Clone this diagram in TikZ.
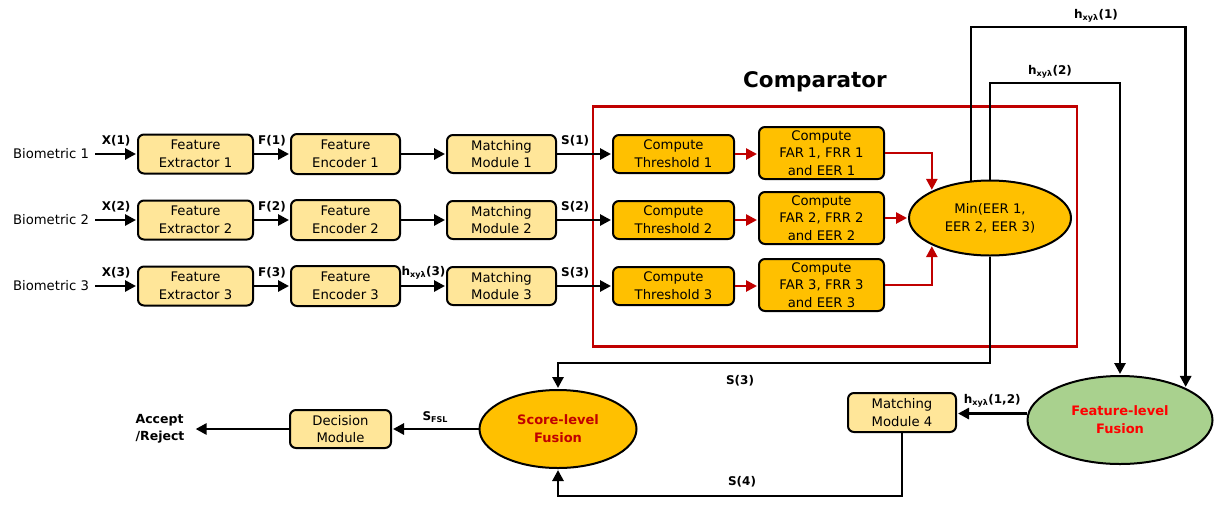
\documentclass[tikz,border=0pt]{standalone}
\usepackage{fontspec}
\setmainfont{DejaVu Sans}
\usepackage{tikz}
\usetikzlibrary{arrows.meta,shapes.geometric,positioning}

\definecolor{boxyellow}{HTML}{FFE699}
\definecolor{boxorange}{HTML}{FFC000}
\definecolor{fusgreen}{HTML}{A9D18E}
\definecolor{cmpred}{HTML}{C00000}

\begin{document}
\begin{tikzpicture}[x=1pt,y=-1pt,shorten >=1pt,>={Triangle[length=11pt,width=11pt]}]
 \tikzstyle{txt}=[font=\fontsize{13.2}{17.8}\selectfont,align=center,inner sep=0pt]
 \tikzstyle{lbl}=[font=\bfseries\fontsize{12}{14}\selectfont,inner sep=1pt]
 \tikzstyle{lightbox}=[txt,draw,line width=2pt,rounded corners=6pt,fill=boxyellow]
 \tikzstyle{orangebox}=[txt,draw,line width=2pt,rounded corners=6pt,fill=boxorange]
 \tikzstyle{oval}=[txt,draw,line width=2pt,ellipse]
 \tikzstyle{flow}=[->,line width=2.8pt]
 \tikzstyle{redflow}=[->,line width=2.6pt,color=cmpred]

\useasboundingbox (0,0) rectangle (1230,504);

% comparator frame
\node[draw=cmpred,line width=2.5pt,minimum width=484pt,minimum height=240pt] (cmp) at (835,226.5) {};
\node[font=\bfseries\fontsize{21.5}{24}\selectfont] (cmptitle) at (815,82) {Comparator};

% inputs
\node[txt,inner sep=6pt] (bio1) at (51,154) {Biometric 1};
\node[txt,inner sep=6pt] (bio2) at (51,220) {Biometric 2};
\node[txt,inner sep=6pt] (bio3) at (51,286) {Biometric 3};

\node[lightbox,minimum width=115pt,minimum height=39pt] (fe1) at (195.5,154) {Feature\\Extractor 1};
\node[lightbox,minimum width=115pt,minimum height=39pt] (fe2) at (195.5,220) {Feature\\Extractor 2};
\node[lightbox,minimum width=115pt,minimum height=39pt] (fe3) at (195.5,286) {Feature\\Extractor 3};

\node[lightbox,minimum width=109pt,minimum height=40pt] (enc1) at (345.5,154) {Feature\\Encoder 1};
\node[lightbox,minimum width=109pt,minimum height=40pt] (enc2) at (345.5,220) {Feature\\Encoder 2};
\node[lightbox,minimum width=109pt,minimum height=40pt] (enc3) at (345.5,286) {Feature\\Encoder 3};

\node[lightbox,minimum width=109pt,minimum height=38pt] (mm1) at (501.5,154) {Matching\\Module 1};
\node[lightbox,minimum width=109pt,minimum height=38pt] (mm2) at (501.5,220) {Matching\\Module 2};
\node[lightbox,minimum width=109pt,minimum height=38pt] (mm3) at (501.5,286) {Matching\\Module 3};

\node[orangebox,minimum width=121pt,minimum height=38pt] (thr1) at (673.5,154) {Compute\\Threshold 1};
\node[orangebox,minimum width=121pt,minimum height=38pt] (thr2) at (673.5,220) {Compute\\Threshold 2};
\node[orangebox,minimum width=121pt,minimum height=38pt] (thr3) at (673.5,286) {Compute\\Threshold 3};

\node[orangebox,minimum width=125pt,minimum height=52pt] (far1) at (821.5,153) {Compute\\FAR 1, FRR 1\\and EER 1};
\node[orangebox,minimum width=125pt,minimum height=52pt] (far2) at (821.5,218) {Compute\\FAR 2, FRR 2\\and EER 2};
\node[orangebox,minimum width=125pt,minimum height=52pt] (far3) at (821.5,285) {Compute\\FAR 3, FRR 3\\and EER 3};

\node[oval,fill=boxorange,minimum width=162pt,minimum height=75pt] (min) at (990,218) {Min(EER 1,\\EER 2, EER 3)};

% fusion part
\node[oval,fill=fusgreen,minimum width=185pt,minimum height=88pt,text=red,font=\bfseries\fontsize{13}{17.8}\selectfont] (ffus) at (1120,420) {Feature-level\\Fusion};
\node[lightbox,minimum width=108pt,minimum height=39pt] (mm4) at (902,412.5) {Matching\\Module 4};
\node[oval,fill=boxorange,minimum width=157pt,minimum height=78pt,text=cmpred,font=\bfseries\fontsize{13}{17.8}\selectfont] (sfus) at (558,429) {Score-level\\Fusion};
\node[lightbox,minimum width=101pt,minimum height=38pt] (dec) at (340.5,429) {Decision\\Module};
\node[lbl,align=left,font=\bfseries\fontsize{12.5}{17.5}\selectfont,inner sep=10pt] (acc) at (160,429) {Accept\\/Reject};

\coordinate (h1) at (1096,27);
\coordinate (h2) at (1050,83);
\coordinate (s3) at (740,363);
\coordinate (s4) at (742,496);

\path[flow] (bio1) edge node[lbl,above=6pt] (lx1) {X(1)} (fe1);
\path[flow] (bio2) edge node[lbl,above=6pt] (lx2) {X(2)} (fe2);
\path[flow] (bio3) edge node[lbl,above=6pt] (lx3) {X(3)} (fe3);

\path[flow] (fe1) edge node[lbl,above=6pt] (lf1) {F(1)} (enc1);
\path[flow] (fe2) edge node[lbl,above=6pt] (lf2) {F(2)} (enc2);
\path[flow] (fe3) edge node[lbl,above=6pt] (lf3) {F(3)} (enc3);

\path[flow] (enc1) edge (mm1);
\path[flow] (enc2) edge (mm2);
\path[flow] (enc3) edge node[lbl,above=4pt] (lh3) {h\textsubscript{xyλ}(3)} (mm3);

\path[flow] (mm1) edge node[lbl,above=6pt,pos=0.33] (ls1) {S(1)} (thr1);
\path[flow] (mm2) edge node[lbl,above=6pt,pos=0.33] (ls2) {S(2)} (thr2);
\path[flow] (mm3) edge node[lbl,above=6pt,pos=0.33] (ls3) {S(3)} (thr3);

\draw[redflow] (thr1.east) -- (thr1.east -| far1.west);
\draw[redflow] (thr2.east) -- (thr2.east -| far2.west);
\draw[redflow] (thr3.east) -- (thr3.east -| far3.west);

\draw[redflow] (far1.east) -| (min.155);
\draw[redflow] (far2.east) -- (min.west);
\draw[redflow] (far3.east) -| (min.205);

\draw[flow] (min.117) |- (h1) -| (ffus.26);
\node[lbl,above=4pt] (lh1) at (h1) {h\textsubscript{xyλ}(1)};
\draw[flow] (min.north) |- (h2) -| (ffus.north);
\node[lbl,above=4pt] (lh2) at (h2) {h\textsubscript{xyλ}(2)};

\draw[flow] (min.south) |- (s3) -| (sfus.north);
\node[lbl,below=11pt] (lsc3) at (s3) {S(3)};

\draw[flow] (ffus.176) -- (mm4.east |- ffus.176) node[lbl,above=4pt,midway] (lh12) {h\textsubscript{xyλ}(1,2)};

\draw[flow] (mm4.south) |- (s4) -| (sfus.south);
\node[lbl,above=8pt] (lsc4) at (s4) {S(4)};

\path[flow] (sfus) edge node[lbl,above=4pt] (lfsl) {S\textsubscript{FSL}} (dec);
\path[flow] (dec) edge (acc);

\end{tikzpicture}
\end{document}
